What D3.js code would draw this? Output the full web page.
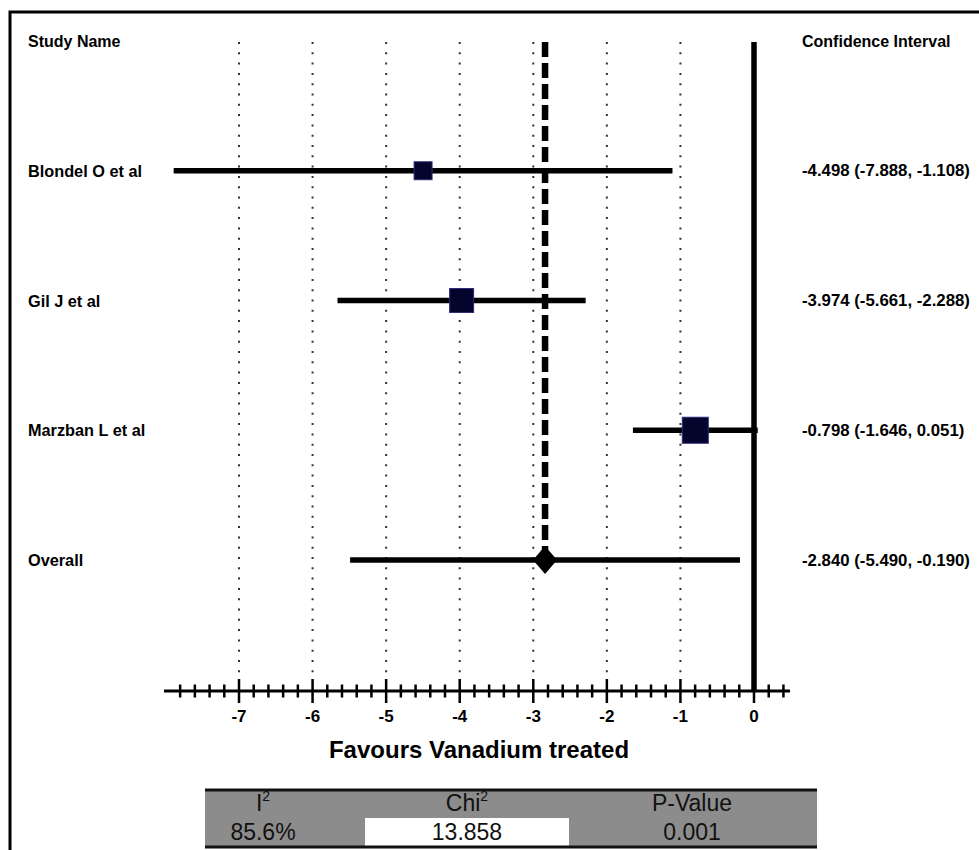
<!DOCTYPE html>
<html>
<head>
<meta charset="utf-8">
<script src="https://cdn.jsdelivr.net/npm/d3@7"></script>
<style>
  html, body { margin: 0; padding: 0; background: #fff; }
  svg { display: block; font-family: "Liberation Sans", Arial, Helvetica, sans-serif; }
</style>
</head>
<body>
<svg id="chart" width="979" height="850"></svg>
<script>
// Study-level estimates (mean difference with 95% CI)
const studies = ["Blondel O et al", "Gil J et al", "Marzban L et al"];
const effects = [-4.498, -3.974, -0.798];
const lowers  = [-7.888, -5.661, -1.646];
const uppers  = [-1.108, -2.288, 0.051];
const weights = [20.5, 36.5, 43.0];

// Pooled estimate
const overallLabel = "Overall";
const overall = { est: -2.840, lo: -5.490, hi: -0.190 };

// Axis ticks
const majorTicks = [-7, -6, -5, -4, -3, -2, -1, 0];
const minorTicks = d3.range(-39, 3).map(i => i * 0.2);

// Heterogeneity table
const hetHeaders = [["I", "2"], ["Chi", "2"], ["P-Value", ""]];
const hetValues = ["85.6%", "13.858", "0.001"];

const fmt = v => d3.format(".3f")(v).replace("\u2212", "-");
const ciText = (e, l, h) => `${fmt(e)} (${fmt(l)}, ${fmt(h)})`;

const svg = d3.select("#chart");

const x = d3.scaleLinear().domain([-7, 0]).range([239, 754]);
const y = d3.scaleLinear().domain([0, 4]).range([41, 560]);
const side = d3.scaleSqrt().domain([0, d3.max(weights)]).range([0, 26]);

const axisY = 691;
const gridTop = 42, gridBottom = 680;

// Outer frame (top and left edges)
svg.append("path")
  .attr("d", `M10,850 V12 H979`)
  .attr("fill", "none").attr("stroke", "#000").attr("stroke-width", 3);

// Dotted gridlines at each unit
svg.append("g").selectAll("line")
  .data(majorTicks.filter(d => d !== 0))
  .join("line")
  .attr("x1", d => x(d)).attr("x2", d => x(d))
  .attr("y1", gridTop).attr("y2", gridBottom)
  .attr("stroke", "#333").attr("stroke-width", 2)
  .attr("stroke-dasharray", "2,8.3");

// Line of no effect
svg.append("line")
  .attr("x1", x(0)).attr("x2", x(0))
  .attr("y1", gridTop).attr("y2", axisY)
  .attr("stroke", "#000").attr("stroke-width", 5.5);

// Dashed line at pooled estimate
svg.append("line")
  .attr("x1", x(overall.est)).attr("x2", x(overall.est))
  .attr("y1", gridTop).attr("y2", y(4))
  .attr("stroke", "#000").attr("stroke-width", 6.5)
  .attr("stroke-dasharray", "15,6");

// Confidence interval lines
const rows = studies.map((s, i) => ({ name: s, est: effects[i], lo: lowers[i], hi: uppers[i], w: weights[i], row: i + 1 }));

svg.append("g").selectAll("line")
  .data(rows.concat([{ ...overall, row: 4 }]))
  .join("line")
  .attr("x1", d => x(d.lo)).attr("x2", d => x(d.hi))
  .attr("y1", d => y(d.row)).attr("y2", d => y(d.row))
  .attr("stroke", "#000").attr("stroke-width", 5.5);

// Study squares sized by weight
svg.append("g").selectAll("rect")
  .data(rows)
  .join("rect")
  .attr("x", d => x(d.est) - side(d.w) / 2)
  .attr("y", d => y(d.row) - side(d.w) / 2)
  .attr("width", d => side(d.w)).attr("height", d => side(d.w))
  .attr("fill", "#04042c").attr("stroke", "#2b2b7a").attr("stroke-width", 1);

// Pooled diamond
const dx = x(overall.est), dy = y(4);
svg.append("path")
  .attr("d", `M${dx},${dy - 14} L${dx + 12},${dy} L${dx},${dy + 14} L${dx - 12},${dy} Z`)
  .attr("fill", "#000");

// Column headers
svg.append("text").attr("x", 28).attr("y", y(0))
  .attr("dominant-baseline", "central")
  .attr("font-size", 16).attr("font-weight", "bold").text("Study Name");
svg.append("text").attr("x", 802).attr("y", y(0))
  .attr("dominant-baseline", "central")
  .attr("font-size", 16).attr("font-weight", "bold").text("Confidence Interval");

// Row labels and CI text
const labelRows = rows.map(d => ({ name: d.name, txt: ciText(d.est, d.lo, d.hi), row: d.row }))
  .concat([{ name: overallLabel, txt: ciText(overall.est, overall.lo, overall.hi), row: 4 }]);

svg.append("g").selectAll("text")
  .data(labelRows).join("text")
  .attr("x", 28).attr("y", d => y(d.row))
  .attr("dominant-baseline", "central")
  .attr("font-size", 16.3).attr("font-weight", "bold")
  .text(d => d.name);

svg.append("g").selectAll("text")
  .data(labelRows).join("text")
  .attr("x", 802).attr("y", d => y(d.row))
  .attr("dominant-baseline", "central")
  .attr("font-size", 16.8).attr("font-weight", "bold")
  .text(d => d.txt);

// Axis
const axisG = svg.append("g");
axisG.append("line")
  .attr("x1", x(-8.02)).attr("x2", x(0.49))
  .attr("y1", axisY).attr("y2", axisY)
  .attr("stroke", "#000").attr("stroke-width", 3);

axisG.append("g").selectAll("line")
  .data(minorTicks.filter(t => Math.abs(t - Math.round(t)) > 1e-6))
  .join("line")
  .attr("x1", d => x(d)).attr("x2", d => x(d))
  .attr("y1", axisY - 6.5).attr("y2", axisY + 6.5)
  .attr("stroke", "#000").attr("stroke-width", 2.5);

axisG.append("g").selectAll("line")
  .data(majorTicks)
  .join("line")
  .attr("x1", d => x(d)).attr("x2", d => x(d))
  .attr("y1", axisY - 12).attr("y2", axisY + 12)
  .attr("stroke", "#000").attr("stroke-width", 2.5);

axisG.append("g").selectAll("text")
  .data(majorTicks).join("text")
  .attr("x", d => x(d)).attr("y", 716)
  .attr("text-anchor", "middle").attr("dominant-baseline", "central")
  .attr("font-size", 17).attr("font-weight", "bold")
  .text(d => d3.format("d")(d).replace("\u2212", "-"));

svg.append("text")
  .attr("x", 479).attr("y", 749)
  .attr("text-anchor", "middle").attr("dominant-baseline", "central")
  .attr("font-size", 24).attr("font-weight", "bold")
  .text("Favours Vanadium treated");

// Heterogeneity table
const tbl = svg.append("g");
tbl.append("rect").attr("x", 205).attr("y", 790).attr("width", 612).attr("height", 56).attr("fill", "#8c8c8c");
tbl.append("rect").attr("x", 365).attr("y", 818).attr("width", 204).attr("height", 28).attr("fill", "#fff");
tbl.append("line").attr("x1", 205).attr("x2", 817).attr("y1", 790).attr("y2", 790).attr("stroke", "#111").attr("stroke-width", 3);
tbl.append("line").attr("x1", 205).attr("x2", 817).attr("y1", 847).attr("y2", 847).attr("stroke", "#111").attr("stroke-width", 3);

const colX = [263, 467, 692];
const hdr = tbl.append("g").selectAll("text")
  .data(hetHeaders).join("text")
  .attr("x", (d, i) => colX[i]).attr("y", 811)
  .attr("text-anchor", "middle")
  .attr("font-size", 23).attr("fill", "#111");
hdr.append("tspan").text(d => d[0]);
hdr.append("tspan").attr("font-size", 14).attr("dy", -10).text(d => d[1]);

tbl.append("g").selectAll("text")
  .data(hetValues).join("text")
  .attr("x", (d, i) => colX[i]).attr("y", 840)
  .attr("text-anchor", "middle")
  .attr("font-size", 23).attr("fill", "#111")
  .text(d => d);
</script>
</body>
</html>
